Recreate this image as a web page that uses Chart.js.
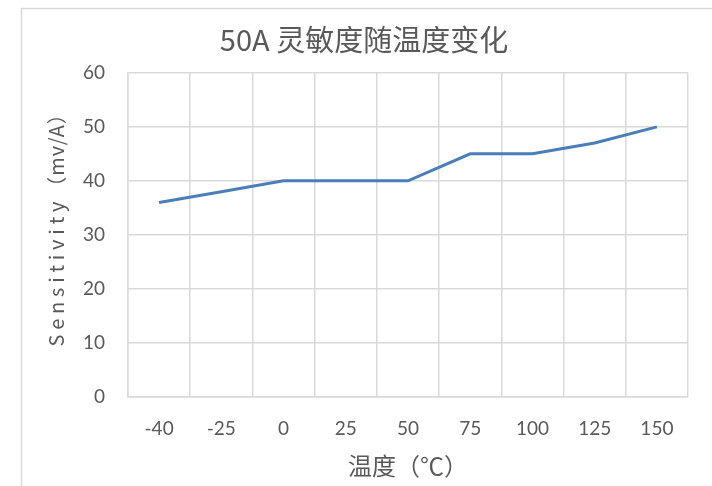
<!DOCTYPE html>
<html>
<head>
<meta charset="utf-8">
<script src="https://cdn.jsdelivr.net/npm/chart.js@4/dist/chart.umd.min.js"></script>
<style>
  html, body { margin: 0; padding: 0; background: #fff; }
  #wrap { width: 712px; height: 486px; }
</style>
</head>
<body>
<div id="wrap"><canvas id="sens-chart" width="712" height="486"></canvas></div>
<script>
// 温度点 / 灵敏度
const temperatures = ['-40', '-25', '0', '25', '50', '75', '100', '125', '150'];
const sensitivity = [36, 38, 40, 40, 40, 45, 45, 47, 50];
const yTicks = [0, 10, 20, 30, 40, 50, 60];

const textColor = '#595959';
const gridColor = '#d9d9d9';
const numFont = "Lato, 'Noto Sans CJK SC', sans-serif";
const cjkFont = "'Noto Sans CJK SC', sans-serif";

// light frame round the whole chart, like the exported picture
const framePlugin = {
    id: 'frame',
    beforeDraw(chart) {
        const ctx = chart.ctx;
        ctx.save();
        ctx.strokeStyle = gridColor;
        ctx.lineWidth = 1.5;
        ctx.strokeRect(21.5, 8.5, 720, 500);
        ctx.restore();
    }
};

// y title is drawn by hand: the original has very wide letter spacing
const yTitlePlugin = {
    id: 'yTitle',
    afterDraw(chart) {
        const ctx = chart.ctx;
        const area = chart.chartArea;
        const partA = 'Sensitivity';
        const partB = '（mv/A）';
        ctx.save();
        ctx.font = '20px ' + cjkFont;
        ctx.fillStyle = textColor;
        ctx.textBaseline = 'middle';
        ctx.textAlign = 'left';
        ctx.letterSpacing = '4.8px';
        const wA = ctx.measureText(partA).width;
        ctx.letterSpacing = '1px';
        const wB = ctx.measureText(partB).width;
        const total = wA + wB;
        ctx.translate(56, (area.top + area.bottom) / 2 - 10);
        ctx.rotate(-Math.PI / 2);
        ctx.letterSpacing = '4.8px';
        ctx.fillText(partA, -total / 2, 0);
        ctx.letterSpacing = '1px';
        ctx.fillText(partB, -total / 2 + wA, 0);
        ctx.restore();
    }
};

const ctx = document.getElementById('sens-chart').getContext('2d');
new Chart(ctx, {
    type: 'line',
    data: {
        labels: temperatures,
        datasets: [{
            label: '50A',
            data: sensitivity,
            borderColor: '#4a7ebb',
            borderWidth: 3,
            pointRadius: 0,
            tension: 0,
            fill: false
        }]
    },
    options: {
        responsive: false,
        animation: false,
        // left padding shifts the title centre to where the original has it
        layout: { padding: { left: 40, right: 24, top: 0, bottom: 0 } },
        plugins: {
            legend: { display: false },
            tooltip: { enabled: false },
            title: {
                display: true,
                text: '50A 灵敏度随温度变化',
                color: textColor,
                font: { family: cjkFont, size: 29, weight: 'normal' },
                padding: { top: 23, bottom: 15 }
            }
        },
        scales: {
            x: {
                offset: true,
                grid: { display: true, offset: true, color: gridColor, lineWidth: 1.5, drawTicks: false },
                border: { color: gridColor, width: 1.5 },
                ticks: {
                    color: textColor,
                    font: { family: numFont, size: 19 },
                    padding: 20,
                    maxRotation: 0
                },
                title: {
                    display: true,
                    text: '温度（℃）',
                    color: textColor,
                    font: { family: cjkFont, size: 24 },
                    padding: { top: 0, bottom: 6 }
                },
                afterFit(scale) { scale.height = 89; }
            },
            y: {
                min: 0,
                max: 60,
                afterBuildTicks(scale) { scale.ticks = yTicks.map(v => ({ value: v })); },
                grid: { color: gridColor, lineWidth: 1.5, drawTicks: false },
                border: { color: gridColor, width: 1.5 },
                ticks: {
                    color: textColor,
                    font: { family: numFont, size: 19 },
                    padding: 23
                },
                title: { display: false },
                afterFit(scale) { scale.width = 88; }
            }
        }
    },
    plugins: [framePlugin, yTitlePlugin]
});
</script>
</body>
</html>
